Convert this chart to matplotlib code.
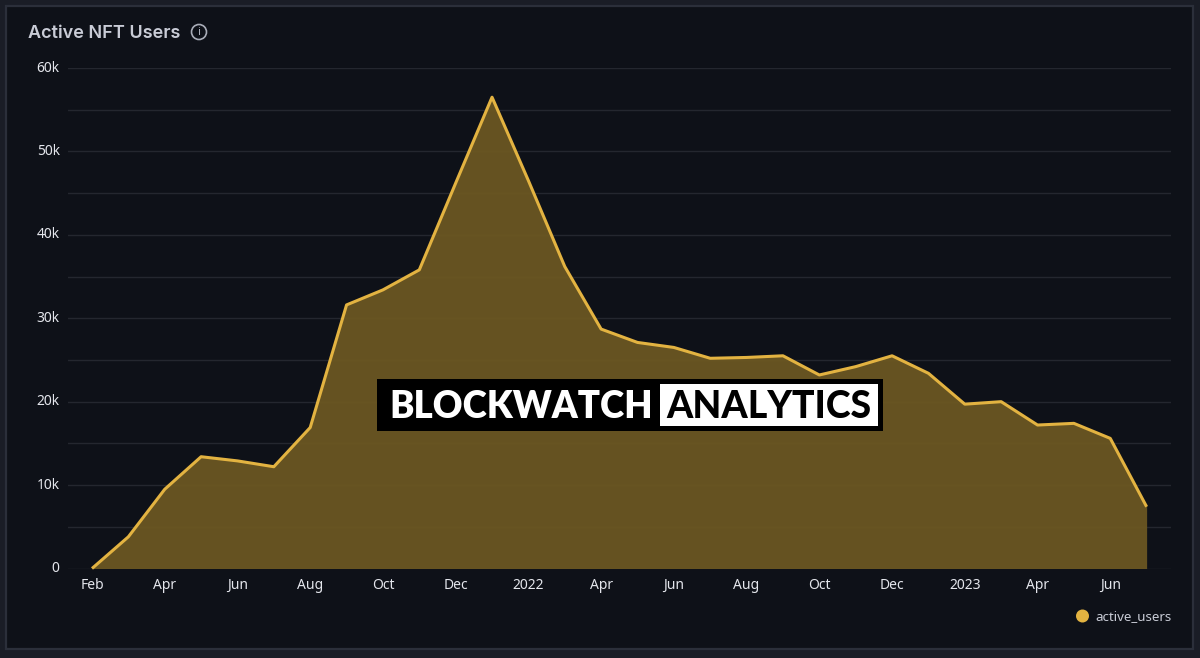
import matplotlib
matplotlib.use("Agg")
import matplotlib.pyplot as plt
from matplotlib.patches import Rectangle, Circle

months = ['Feb', 'Mar', 'Apr', 'May', 'Jun', 'Jul', 'Aug', 'Sep', 'Oct', 'Nov', 'Dec',
          'Jan', '2022', 'Mar', 'Apr', 'May', 'Jun', 'Jul', 'Aug', 'Sep', 'Oct', 'Nov', 'Dec',
          'Jan', '2023', 'Mar', 'Apr', 'May', 'Jun', 'Jul']
active_users = [0, 3800, 9500, 13400, 12900, 12200, 16900, 31600, 33400, 35800, 46200,
                56500, 46500, 36200, 28700, 27100, 26500, 25200, 25300, 25500, 23200,
                24200, 25500, 23400, 19700, 20000, 17200, 17400, 15600, 7400]
y_ticks = [0, 10000, 20000, 30000, 40000, 50000, 60000]
y_labels = ['0', '10k', '20k', '30k', '40k', '50k', '60k']
y_grid = [5000, 15000, 25000, 35000, 45000, 55000]

W, H = 1200, 658
GOLD = '#e3b341'
PANEL = '#0e1118'

plt.rcParams['font.family'] = ['Noto Sans', 'DejaVu Sans']

fig = plt.figure(figsize=(W / 100, H / 100), dpi=100, facecolor='#1a1d26')

# panel behind the chart, in pixel coords
bg = fig.add_axes([0, 0, 1, 1])
bg.set_xlim(0, W)
bg.set_ylim(H, 0)
bg.axis('off')
bg.add_patch(Rectangle((6, 5.5), 1187, 643, facecolor=PANEL, edgecolor='#2b2f3a', linewidth=1.6))

ax = fig.add_axes([68 / W, 1 - 568.5 / H, (1171 - 68) / W, 500.5 / H])
ax.patch.set_alpha(0)
x = list(range(len(active_users)))
ax.set_xlim(-0.66, 29.67)
ax.set_ylim(0, 60000)

ax.set_yticks(y_ticks)
ax.set_yticklabels(y_labels, va='center')
ax.set_yticks(y_grid, minor=True)
ax.grid(True, axis='y', which='both', color='#24272f', linewidth=1)
ax.set_axisbelow(True)
ax.set_xticks(x[::2])
ax.set_xticklabels(months[::2])
ax.tick_params(axis='both', which='both', length=0, colors='#e4e6ec', labelsize=10)
ax.tick_params(axis='x', pad=7)
ax.tick_params(axis='y', pad=6)
for s in ax.spines.values():
    s.set_visible(False)

ax.fill_between(x, active_users, 0, color='#6d5822', linewidth=0, alpha=0.93, zorder=2)
line, = ax.plot(x, active_users, color=GOLD, linewidth=2.2, zorder=3, solid_capstyle='butt')
line.set_clip_on(False)

# overlay for title, legend and watermark
top = fig.add_axes([0, 0, 1, 1])
top.set_xlim(0, W)
top.set_ylim(H, 0)
top.axis('off')
top.patch.set_alpha(0)

top.text(28.5, 33, 'Active NFT Users', color='#c9ccd6', fontsize=13, fontweight='semibold',
         family=['Inter', 'DejaVu Sans'], va='center')
top.add_patch(Circle((199, 32), 7.5, facecolor='none', edgecolor='#a9adb8', linewidth=1.2))
top.text(199, 32.5, 'i', color='#a9adb8', fontsize=8, ha='center', va='center')

top.add_patch(Circle((1082.5, 616), 6.5, facecolor=GOLD, edgecolor='none'))
top.text(1095, 616.5, 'active_users', color='#c9ccd6', fontsize=9.6, va='center')

top.add_patch(Rectangle((377, 379), 506, 52, facecolor='black', edgecolor='none'))
top.add_patch(Rectangle((660, 384), 218, 42, facecolor='white', edgecolor='none'))
top.text(389, 406.5, 'BLOCKWATCH', color='white', fontsize=26.4, family=['Lato', 'DejaVu Sans'],
         fontweight='heavy', va='center')
top.text(769, 406.5, 'ANALYTICS', color='black', fontsize=27, family=['Lato', 'DejaVu Sans'],
         fontweight='black', va='center', ha='center')

fig.savefig('out.png', dpi=100, facecolor=fig.get_facecolor())
